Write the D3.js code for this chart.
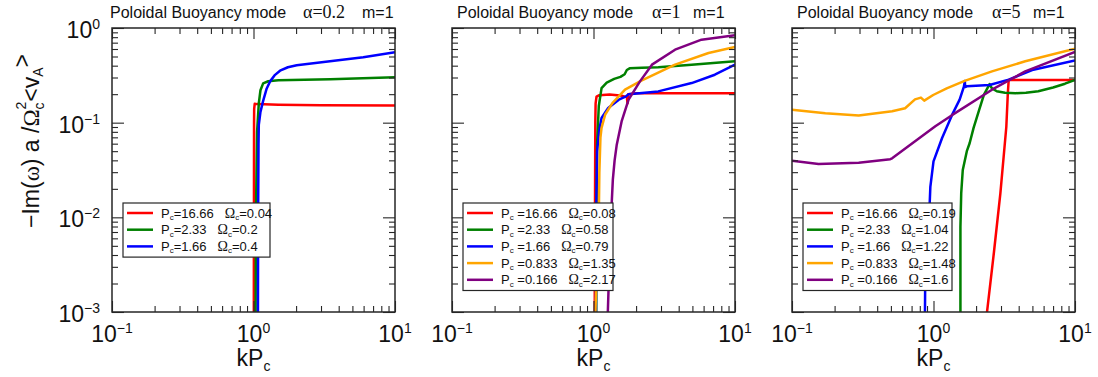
<!DOCTYPE html>
<html>
<head>
<meta charset="utf-8">
<script src="https://cdn.jsdelivr.net/npm/d3@7"></script>
<style>
  body { margin: 0; background: #fff; }
  svg { display: block; font-family: "Liberation Sans", Arial, sans-serif; }
</style>
</head>
<body>
<div id="chart"></div>
<script>

// ---- data (k P_c , -Im(w) a / Omega_c^2 <vA>) ----
var alphaValues = ["0.2", "1", "5"];
var xTickValues = [0.1, 1, 10];
var xTickExp = ["\u22121", "0", "1"];
var yTickValues = [0.001, 0.01, 0.1, 1];
var yTickExp = ["\u22123", "\u22122", "\u22121", "0"];
var seriesColors = ["#ff0000", "#008000", "#0000ff", "#ffa500", "#800080"];

var legendP = [
  ["16.66", "2.33", "1.66"],
  ["16.66", "2.33", "1.66", "0.833", "0.166"],
  ["16.66", "2.33", "1.66", "0.833", "0.166"]
];
var legendOmega = [
  ["0.04", "0.2", "0.4"],
  ["0.08", "0.58", "0.79", "1.35", "2.17"],
  ["0.19", "1.04", "1.22", "1.48", "1.6"]
];

// alpha = 0.2
var a02_red = [[1.005,0.0009],[1.007,0.01],[1.009,0.1],[1.011,0.14],[1.02,0.158],[1.06,0.157],[1.5,0.155],[3,0.153],[10,0.152]];
var a02_green = [[1.035,0.0009],[1.04,0.01],[1.06,0.08],[1.09,0.16],[1.12,0.22],[1.17,0.26],[1.27,0.274],[1.5,0.28],[3.5,0.288],[10,0.302]];
var a02_blue = [[1.075,0.0009],[1.078,0.01],[1.085,0.06],[1.09,0.095],[1.12,0.13],[1.17,0.17],[1.24,0.23],[1.31,0.273],[1.42,0.32],[1.54,0.354],[1.75,0.385],[2.02,0.404],[3.47,0.445],[5.97,0.49],[10,0.553]];

// alpha = 1
var a1_red = [[1.02,0.0009],[1.024,0.01],[1.03,0.1],[1.035,0.16],[1.05,0.188],[1.1,0.195],[1.3,0.198],[1.6,0.192],[1.72,0.186],[1.74,0.16],[1.76,0.2],[2,0.205],[10,0.205]];
var a1_green = [[1.045,0.0009],[1.05,0.01],[1.06,0.06],[1.09,0.15],[1.14,0.232],[1.24,0.265],[1.4,0.29],[1.55,0.305],[1.66,0.325],[1.72,0.36],[1.8,0.375],[2.2,0.38],[2.87,0.384],[4.94,0.41],[10,0.445]];
var a1_blue = [[1.04,0.0009],[1.045,0.01],[1.06,0.05],[1.1,0.085],[1.14,0.112],[1.27,0.143],[1.51,0.175],[1.7,0.19],[1.77,0.2],[2.87,0.214],[4.94,0.262],[7.2,0.321],[10,0.41]];
var a1_orange = [[1.03,0.0009],[1.06,0.004],[1.09,0.01],[1.1,0.03],[1.12,0.07],[1.14,0.088],[1.21,0.122],[1.36,0.161],[1.67,0.223],[2.18,0.278],[3.77,0.41],[6.5,0.545],[10,0.63]];
var a1_purple = [[1.26,0.0009],[1.3,0.004],[1.33,0.01],[1.37,0.025],[1.41,0.04],[1.46,0.0586],[1.58,0.103],[1.77,0.175],[2.13,0.273],[2.59,0.41],[3.77,0.59],[5.8,0.753],[10,0.837]];

// alpha = 5
var a5_red = [[2.37,0.0009],[2.67,0.0042],[2.97,0.018],[3.27,0.09],[3.35,0.2],[3.4,0.283],[10,0.283]];
var a5_green = [[1.55,0.0009],[1.55,0.0079],[1.57,0.018],[1.61,0.0316],[1.72,0.05],[1.8,0.0606],[1.92,0.088],[2.1,0.136],[2.27,0.197],[2.49,0.255],[2.58,0.232],[2.8,0.215],[3.2,0.207],[3.8,0.205],[4.5,0.207],[5.5,0.215],[7,0.235],[8.5,0.258],[10,0.283]];
var a5_blue = [[0.87,0.0009],[0.875,0.003],[0.9,0.008],[0.94,0.0141],[0.95,0.021],[1.0,0.039],[1.15,0.0688],[1.35,0.12],[1.53,0.175],[1.64,0.24],[1.665,0.275],[1.675,0.238],[1.72,0.242],[2.49,0.25],[3.4,0.285],[5.08,0.363],[10,0.455]];
var a5_orange = [[0.1,0.137],[0.172,0.126],[0.296,0.119],[0.51,0.132],[0.63,0.142],[0.74,0.176],[0.815,0.184],[0.86,0.171],[0.995,0.196],[1.24,0.23],[1.66,0.276],[2.59,0.348],[4.45,0.445],[10,0.605]];
var a5_purple = [[0.1,0.0397],[0.154,0.0366],[0.296,0.0377],[0.495,0.0411],[0.51,0.042],[1.03,0.0915],[1.35,0.12],[2.59,0.223],[4.45,0.348],[10,0.558]];

var panelSeries = [
  [a02_red, a02_green, a02_blue],
  [a1_red, a1_green, a1_blue, a1_orange, a1_purple],
  [a5_red, a5_green, a5_blue, a5_orange, a5_purple]
];

// ---- layout ----
var width = 1098, height = 377;
var panelLeft = [112, 452, 792],
    panelW = 283,
    plotTop = 28,
    plotBottom = 312;
var titleX = [110, 457, 797];
var titleAlphaDx = [193, 195, 195];
var titleMDx = [252, 236, 236];
var legendW = [147, 150, 149];
var frameColor = "#262626";
var serif = "'Liberation Serif', 'Times New Roman', serif";

var svg = d3.select("#chart")
            .append("svg")
            .attr("width", width)
            .attr("height", height);

svg.append("rect").attr("width", width).attr("height", height).attr("fill", "#fff");

function addPowerLabel(sel, exp){
    sel.append("tspan").text("10");
    sel.append("tspan")
        .attr("dy", -9)
        .style("font-size", "14px")
        .text(exp);
}

panelSeries.forEach(function(series, i){
    var x = d3.scaleLog()
            .domain([0.1, 10])
            .range([panelLeft[i], panelLeft[i] + panelW]);
    var y = d3.scaleLog()
            .domain([1e-3, 1])
            .range([plotBottom, plotTop]);

    var g = svg.append("g");

    svg.append("clipPath")
        .attr("id", "clip" + i)
        .append("rect")
        .attr("x", panelLeft[i])
        .attr("y", plotTop)
        .attr("width", panelW)
        .attr("height", plotBottom - plotTop);

    // curves
    var line = d3.line()
                .x(function(d) { return x(d[0]); })
                .y(function(d) { return y(d[1]); });

    var curves = g.append("g").attr("clip-path", "url(#clip" + i + ")");
    series.forEach(function(s, j){
        curves.append("path")
            .datum(s)
            .attr("d", line)
            .attr("fill", "none")
            .attr("stroke", seriesColors[j])
            .attr("stroke-width", 2.5)
            .attr("stroke-linejoin", "round");
    });

    // ticks on all four sides, pointing inward
    var xAll = x.ticks();
    var xMajor = xAll.filter(function(v){ return xTickValues.indexOf(v) >= 0; });
    var xMinor = xAll.filter(function(v){ return xTickValues.indexOf(v) < 0; });
    var yAll = y.ticks();
    var yMajor = yAll.filter(function(v){ return yTickValues.indexOf(v) >= 0; });
    var yMinor = yAll.filter(function(v){ return yTickValues.indexOf(v) < 0; });

    var axes = [
        [d3.axisBottom(x), "translate(0," + plotBottom + ")", xMajor, xMinor, 11, 6],
        [d3.axisTop(x), "translate(0," + plotTop + ")", xMajor, xMinor, 11, 6],
        [d3.axisLeft(y), "translate(" + panelLeft[i] + ",0)", yMajor, yMinor, 12, 6],
        [d3.axisRight(y), "translate(" + (panelLeft[i] + panelW) + ",0)", yMajor, yMinor, 12, 6]
    ];
    axes.forEach(function(a){
        [[a[2], a[4]], [a[3], a[5]]].forEach(function(t){
            g.append("g")
                .attr("transform", a[1])
                .call(a[0].tickValues(t[0]).tickSize(-t[1]).tickFormat(""))
                .call(function(s){ s.select(".domain").remove(); })
                .selectAll("line")
                .attr("stroke", frameColor)
                .attr("stroke-width", 1.1);
        });
    });

    g.append("rect")
        .attr("x", panelLeft[i])
        .attr("y", plotTop)
        .attr("width", panelW)
        .attr("height", plotBottom - plotTop)
        .attr("fill", "none")
        .attr("stroke", frameColor)
        .attr("stroke-width", 1.5);

    // x tick labels
    xTickValues.forEach(function(v, k){
        var t = g.append("text")
            .attr("x", x(v))
            .attr("y", 342)
            .attr("text-anchor", "middle")
            .style("font-size", "23px")
            .attr("fill", "#111");
        addPowerLabel(t, xTickExp[k]);
    });

    // y tick labels only on the first panel
    if (i === 0) {
        yTickValues.forEach(function(v, k){
            var t = g.append("text")
                .attr("x", 100)
                .attr("y", y(v) + 10)
                .attr("text-anchor", "end")
                .style("font-size", "23px")
                .attr("fill", "#111");
            addPowerLabel(t, yTickExp[k]);
        });
    }

    // x axis title
    var xt = g.append("text")
        .attr("x", panelLeft[i] + panelW / 2)
        .attr("y", 366)
        .attr("text-anchor", "middle")
        .style("font-size", "23px")
        .attr("fill", "#111");
    xt.append("tspan").text("kP");
    xt.append("tspan").attr("dy", 5).style("font-size", "14px").text("c");

    // panel title
    var tt = g.append("text")
        .attr("x", titleX[i])
        .attr("y", 18)
        .style("font-size", "16px")
        .attr("fill", "#111");
    tt.append("tspan").text("Poloidal Buoyancy mode");
    tt.append("tspan")
        .attr("x", titleX[i] + titleAlphaDx[i])
        .style("font-family", serif)
        .style("font-size", "18px")
        .text("\u03b1=" + alphaValues[i]);
    tt.append("tspan").attr("x", titleX[i] + titleMDx[i]).text("m=1");

    // legend
    var nRows = legendP[i].length;
    var lx = panelLeft[i] + 11, ly = 203, rowH = 16.7;
    var lg = g.append("g");
    lg.append("rect")
        .attr("x", lx)
        .attr("y", ly)
        .attr("width", legendW[i])
        .attr("height", nRows * rowH + 4)
        .attr("fill", "#fff")
        .attr("stroke", frameColor)
        .attr("stroke-width", 1.2);
    legendP[i].forEach(function(p, j){
        var ry = ly + 10 + j * rowH;
        lg.append("line")
            .attr("x1", lx + 4).attr("x2", lx + 30)
            .attr("y1", ry).attr("y2", ry)
            .attr("stroke", seriesColors[j])
            .attr("stroke-width", 2.5);
        var pt = lg.append("text")
            .attr("x", lx + 38)
            .attr("y", ry + 4.5)
            .style("font-size", "13px")
            .attr("fill", "#111");
        pt.append("tspan").text("P");
        pt.append("tspan").attr("dy", 2.5).style("font-size", "8px").text("c");
        pt.append("tspan").attr("dy", -2.5).text((i === 0 ? "=" : " =") + p);
        var pEnd = lx + 38 + pt.node().getComputedTextLength();
        var ot = lg.append("text")
            .attr("x", pEnd + 11)
            .attr("y", ry + 4.5)
            .style("font-size", "13px")
            .attr("fill", "#111");
        ot.append("tspan")
            .style("font-family", serif)
            .style("font-size", "14px")
            .text("\u03a9");
        ot.append("tspan").attr("dy", 2.5).style("font-size", "8px").text("c");
        ot.append("tspan").attr("dy", -2.5).text("=" + legendOmega[i][j]);
    });
});

// y axis title (rotated)
var yl = svg.append("text")
    .attr("transform", "translate(39,141) rotate(-90)")
    .attr("text-anchor", "middle")
    .style("font-size", "23px")
    .attr("fill", "#111");
yl.append("tspan").text("\u2212Im(");
yl.append("tspan").style("font-family", serif).text("\u03c9");
yl.append("tspan").text(") a /");
yl.append("tspan").style("font-family", serif).text("\u03a9");
yl.append("tspan").attr("dy", 5).style("font-size", "14px").text("c");
yl.append("tspan").attr("dx", -7).attr("dy", -18).style("font-size", "14px").text("2");
yl.append("tspan").attr("dy", 13).text("<v");
yl.append("tspan").attr("dy", 4).style("font-size", "14px").text("A");
yl.append("tspan").attr("dy", -13).text(">");

</script>
</body>
</html>
